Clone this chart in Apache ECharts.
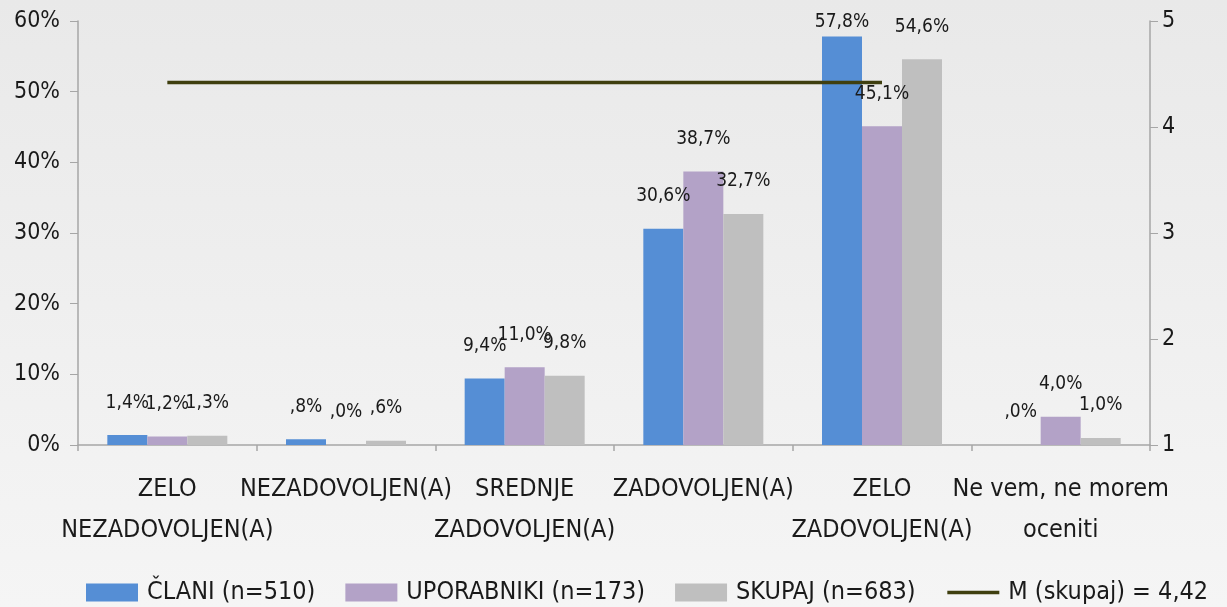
<!DOCTYPE html>
<html>
<head>
<meta charset="utf-8">
<script src="https://cdn.jsdelivr.net/npm/echarts@6/dist/echarts.min.js"></script>
<style>
html, body { margin: 0; padding: 0; }
#main { width: 1227px; height: 607px; }
</style>
</head>
<body>
<div id="main"></div>
<script>
// kategorije in podatki
var categories = ['ZELO\nNEZADOVOLJEN(A)', 'NEZADOVOLJEN(A)', 'SREDNJE\nZADOVOLJEN(A)', 'ZADOVOLJEN(A)', 'ZELO\nZADOVOLJEN(A)', 'Ne vem, ne morem\noceniti'];
var clani = [1.4, 0.8, 9.4, 30.6, 57.8, 0.0];
var uporabniki = [1.2, 0.0, 11.0, 38.7, 45.1, 4.0];
var skupaj = [1.3, 0.6, 9.8, 32.7, 54.6, 1.0];
var povprecje = [4.42, 4.42, 4.42, 4.42, 4.42, null];
var seriesNames = ['ČLANI (n=510)', 'UPORABNIKI (n=173)', 'SKUPAJ (n=683)', 'M (skupaj) = 4,42'];

var FONT = '"DejaVu Sans Condensed", "Liberation Sans", sans-serif';
var myChart = echarts.init(document.getElementById('main'));

function fmt(p) {
    var s = p.value.toFixed(1).replace('.', ',');
    if (s.charAt(0) === '0') s = s.slice(1);
    return s + '%';
}

function barLabel() {
    return { show: true, position: 'top', distance: 23, formatter: fmt, color: '#1a1a1a', fontSize: 19, fontFamily: FONT };
}

// 57,8% ima oznako blizje stolpcu
var claniData = clani.map(function (v, i) {
    if (i === 4) return { value: v, label: { distance: 5 } };
    return v;
});

var option = {
    backgroundColor: {
        type: 'linear', x: 0, y: 0, x2: 0, y2: 1,
        colorStops: [{ offset: 0, color: '#e9e9e9' }, { offset: 1, color: '#f5f5f5' }]
    },
    textStyle: { fontFamily: FONT },
    grid: { left: 78, right: 77, top: 21, bottom: 162 },
    legend: {
        bottom: 2,
        left: 86,
        padding: 0,
        itemWidth: 52,
        itemHeight: 18,
        itemGap: 30,
        textStyle: { fontSize: 25, color: '#1a1a1a', fontFamily: FONT, padding: [0, 0, 0, 4] },
        data: [
            { name: seriesNames[0], icon: 'rect' },
            { name: seriesNames[1], icon: 'rect' },
            { name: seriesNames[2], icon: 'rect' },
            { name: seriesNames[3], itemStyle: { opacity: 0, color: 'transparent', borderWidth: 0 }, lineStyle: { width: 3.5, color: '#3f3f0f' } }
        ]
    },
    xAxis: {
        type: 'category',
        data: categories,
        axisLine: { lineStyle: { color: '#a6a6a6', width: 1.5 } },
        axisTick: { show: true, length: 6, lineStyle: { color: '#a6a6a6', width: 1.5 } },
        axisLabel: { interval: 0, fontSize: 25, color: '#1a1a1a', lineHeight: 41, margin: 24, fontFamily: FONT }
    },
    yAxis: [
        {
            type: 'value', min: 0, max: 60, interval: 10,
            axisLine: { show: true, lineStyle: { color: '#a6a6a6', width: 1.5 } },
            axisTick: { show: true, length: 8, lineStyle: { color: '#a6a6a6' } },
            splitLine: { show: false },
            axisLabel: { formatter: '{value}%', fontSize: 23, color: '#1a1a1a', margin: 18, fontFamily: FONT }
        },
        {
            type: 'value', min: 1, max: 5, interval: 1,
            position: 'right',
            axisLine: { show: true, lineStyle: { color: '#a6a6a6', width: 1.5 } },
            axisTick: { show: true, length: 8, lineStyle: { color: '#a6a6a6' } },
            splitLine: { show: false },
            axisLabel: { fontSize: 23, color: '#1a1a1a', margin: 12, fontFamily: FONT }
        }
    ],
    series: [
        {
            name: seriesNames[0], type: 'bar', data: claniData,
            barWidth: 40, barGap: '0%',
            itemStyle: { color: '#558ed5' },
            label: barLabel()
        },
        {
            name: seriesNames[1], type: 'bar', data: uporabniki,
            barWidth: 40, barGap: '0%',
            itemStyle: { color: '#b3a2c7' },
            label: barLabel()
        },
        {
            name: seriesNames[2], type: 'bar', data: skupaj,
            barWidth: 40, barGap: '0%',
            itemStyle: { color: '#bfbfbf' },
            label: barLabel()
        },
        {
            name: seriesNames[3], type: 'line', yAxisIndex: 1, data: povprecje,
            symbol: 'none',
            lineStyle: { color: '#3f3f0f', width: 3.5 },
            itemStyle: { color: '#3f3f0f' },
            z: 5
        }
    ]
};

myChart.setOption(option);
</script>
</body>
</html>
